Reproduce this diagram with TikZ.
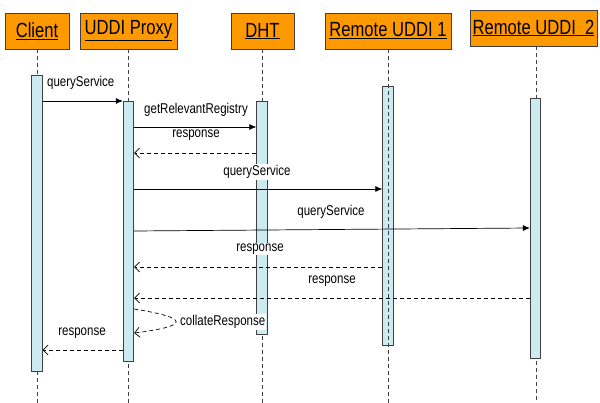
\documentclass[tikz,border=0pt]{standalone}
\usepackage{fontspec}
\setmainfont{Liberation Sans}[FakeStretch=0.81]
\usetikzlibrary{arrows.meta}
\definecolor{boxor}{HTML}{FF9900}
\definecolor{barcy}{HTML}{CCEBF0}
\definecolor{edgec}{HTML}{404040}
\tikzset{
  actor/.style={draw=edgec, fill=boxor, minimum height=36pt, inner sep=0pt, line width=0.8pt, font=\fontsize{20.5}{21}\selectfont},
  actbar/.style={draw=edgec, fill=barcy, line width=0.8pt, minimum width=10.5pt, inner sep=0pt, anchor=north},
  life/.style={draw=edgec, dash pattern=on 4pt off 3pt, line width=0.8pt},
  msg/.style={-{Latex[length=7pt,width=6pt]}, line width=0.7pt},
  ret/.style={dash pattern=on 4pt off 3pt, -{Straight Barb[length=5pt,width=10pt]}, line width=0.7pt},
  lbl/.style={fill=white, inner sep=1pt, font=\fontsize{14.2}{15}\selectfont}
}
\begin{document}
\begin{tikzpicture}[x=1pt,y=-1pt]
\useasboundingbox (0,0) rectangle (600,403);
% actors
\node[actor, minimum width=64pt] (client) at (37,31) {\underline{Client}};
\node[actor, minimum width=97pt] (proxy) at (128.5,31) {\underline{UDDI Proxy}};
\node[actor, minimum width=63pt] (dht) at (262.5,31) {\underline{DHT}};
\node[actor, minimum width=126pt] (rem1) at (388,31) {\underline{Remote UDDI 1}};
\node[actor, minimum width=127pt] (rem2) at (533.5,28) {\underline{Remote UDDI\ \ 2}};
% lifelines
\coordinate (cend) at (37,403);
\coordinate (pend) at (128.5,403);
\coordinate (dend) at (262,403);
\coordinate (r1end) at (388,403);
\coordinate (r2end) at (536,403);
\draw[life] (client.south) -- (cend);
\draw[life] (proxy.south) -- (pend);
\draw[life] (dht.south -| dend) -- (dend);
\draw[life] (rem2.south -| r2end) -- (r2end);
% activation bars
\node[actbar, minimum height=296pt] (cbar) at (37,75) {};
\node[actbar, minimum height=260pt] (pbar) at (128.5,101) {};
\node[actbar, minimum height=233pt] (dbar) at (262,101) {};
\node[actbar, minimum height=259pt] (r1bar) at (388,86) {};
\node[actbar, minimum height=260pt] (r2bar) at (535.5,98) {};
\draw[life] (rem1.south) -- (r1end);
% messages
\draw[msg] (cbar.east |- 0,101) -- (pbar.west |- 0,101);
\draw[msg] (pbar.east |- 0,127) -- (dbar.west |- 0,127);
\draw[ret] (dbar.west |- 0,153) -- (pbar.east |- 0,153);
\draw[msg] (pbar.east |- 0,189) -- (r1bar.west |- 0,189);
\draw[msg] (pbar.east |- 0,231) -- (r2bar.west |- 0,228);
\draw[ret] (r1bar.west |- 0,267) -- (pbar.east |- 0,267);
\draw[ret] (r2bar.west |- 0,298) -- (pbar.east |- 0,298);
\draw[ret] (pbar.east |- 0,309) .. controls (190,318) and (190,326) .. (pbar.east |- 0,333);
\draw[ret] (pbar.west |- 0,350) -- (cbar.east |- 0,350);
% labels
\node[lbl, anchor=west] (l1) at (46,83) {queryService};
\node[lbl] (l2) at (196,110) {getRelevantRegistry};
\node[lbl] (l3) at (196,135) {response};
\node[lbl] (l4) at (257,172) {queryService};
\node[lbl] (l5) at (331,212) {queryService};
\node[lbl] (l6) at (260,249) {response};
\node[lbl] (l7) at (332,281) {response};
\node[lbl, anchor=west] (l8) at (179,322) {collateResponse};
\node[lbl] (l9) at (82,333) {response};
\end{tikzpicture}
\end{document}
